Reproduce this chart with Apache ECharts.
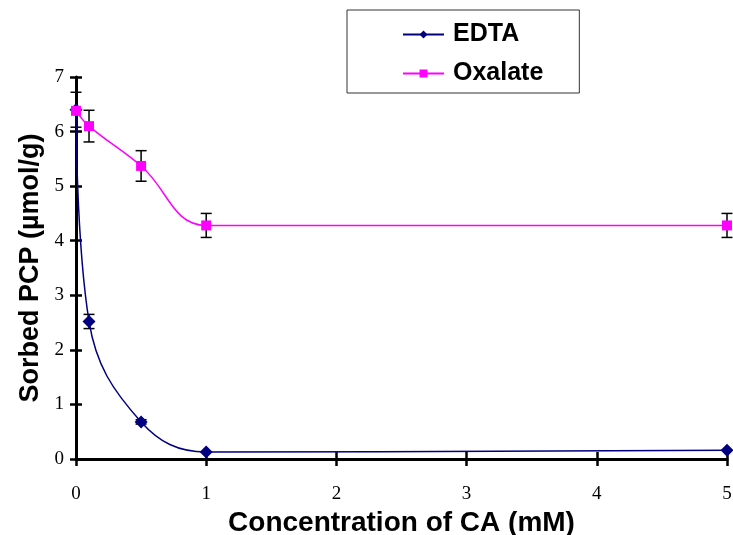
<!DOCTYPE html>
<html><head><meta charset="utf-8">
<script src="https://cdn.jsdelivr.net/npm/echarts@6/dist/echarts.min.js"></script>
<style>html,body{margin:0;padding:0;background:#fff}#c{width:733px;height:535px}</style>
</head><body><div id="c"></div>
<script>
const concentrations = [0, 0.1, 0.5, 1, 5];
const edtaValues = [6.40, 2.52, 0.68, 0.13, 0.16];
const oxalateValues = [6.38, 6.10, 5.37, 4.28, 4.28];
const edtaErr = [0.32, 0.13, 0.04, 0, 0];
const oxalateErr = [0.0, 0.29, 0.28, 0.22, 0.22];
const xTicks = [0, 1, 2, 3, 4, 5];
const yTicks = [0, 1, 2, 3, 4, 5, 6, 7];

const chart = echarts.init(document.getElementById('c'));
const pair = (xs, ys) => xs.map((x, i) => [x, ys[i]]);
const errData = (xs, ys, es) => xs.map((x, i) => [x, ys[i] - es[i], ys[i] + es[i]]).filter((d, i) => es[i] > 0);

function renderErr(params, api) {
  const x = api.value(0), lo = api.value(1), hi = api.value(2);
  const pLo = api.coord([x, lo]), pHi = api.coord([x, hi]);
  const w = 5.5;
  const st = { stroke: '#000', lineWidth: 1.5 };
  return { type: 'group', children: [
    { type: 'line', shape: { x1: pLo[0], y1: pLo[1], x2: pHi[0], y2: pHi[1] }, style: st },
    { type: 'line', shape: { x1: pLo[0] - w, y1: pLo[1], x2: pLo[0] + w, y2: pLo[1] }, style: st },
    { type: 'line', shape: { x1: pHi[0] - w, y1: pHi[1], x2: pHi[0] + w, y2: pHi[1] }, style: st }
  ]};
}

const labelFont = { fontFamily: 'Liberation Serif', fontSize: 19, color: '#000' };
const titleFont = { fontFamily: 'Liberation Sans', fontSize: 27, fontWeight: 'bold', color: '#000' };

chart.setOption({
  animation: false,
  backgroundColor: '#fff',
  grid: { left: 76, right: 6, top: 77, bottom: 76, containLabel: false, outerBoundsMode: 'none' },
  legend: {
    orient: 'vertical', left: 347, top: 10,
    padding: [12, 36, 7, 55],
    borderColor: '#333', borderWidth: 1,
    itemWidth: 41, itemHeight: 10, itemGap: 14,
    textStyle: { fontFamily: 'Liberation Sans', fontSize: 25, fontWeight: 'bold', color: '#000', padding: [0, 0, 0, 4] },
    data: ['EDTA', 'Oxalate']
  },
  xAxis: [{
    type: 'value', min: 0, max: 5, interval: 1,
    name: 'Concentration of CA (mM)', nameLocation: 'middle', nameGap: 49,
    nameTextStyle: Object.assign({}, titleFont, { fontSize: 28 }),
    axisLine: { lineStyle: { color: '#000', width: 3 } },
    axisTick: { show: true, length: 7, lineStyle: { color: '#000', width: 2.5 } },
    axisLabel: Object.assign({ margin: 26, formatter: v => xTicks.includes(v) ? String(v) : '' }, labelFont),
    splitLine: { show: false }
  }, {
    type: 'value', min: 0, max: 5, interval: 1, position: 'bottom',
    axisLine: { show: false },
    axisTick: { show: true, inside: true, length: 7, lineStyle: { color: '#000', width: 2.5 } },
    axisLabel: { show: false }, splitLine: { show: false }
  }],
  yAxis: [{
    type: 'value', min: 0, max: 7, interval: 1,
    name: 'Sorbed PCP (µmol/g)', nameLocation: 'middle', nameGap: 32,
    nameTextStyle: titleFont,
    axisLine: { lineStyle: { color: '#000', width: 3 } },
    axisTick: { show: true, length: 6, lineStyle: { color: '#000', width: 2.5 } },
    axisLabel: Object.assign({ margin: 12, formatter: v => yTicks.includes(v) ? String(v) : '' }, labelFont),
    splitLine: { show: false }
  }, {
    type: 'value', min: 0, max: 7, interval: 1, position: 'left',
    axisLine: { show: false },
    axisTick: { show: true, inside: true, length: 6, lineStyle: { color: '#000', width: 2.5 } },
    axisLabel: { show: false }, splitLine: { show: false }
  }],
  series: [
    {
      name: 'EDTA', type: 'line', smooth: 0.4,
      data: pair(concentrations, edtaValues),
      symbol: 'diamond', symbolSize: 13,
      lineStyle: { color: '#000080', width: 1.5 },
      itemStyle: { color: '#000080' }, z: 3
    },
    {
      name: 'Oxalate', type: 'line', smooth: 0.4,
      data: pair(concentrations, oxalateValues),
      symbol: 'rect', symbolSize: 10,
      lineStyle: { color: '#FF00FF', width: 1.5 },
      itemStyle: { color: '#FF00FF' }, z: 4
    },
    {
      type: 'custom', renderItem: renderErr, z: 2,
      data: errData(concentrations, edtaValues, edtaErr)
    },
    {
      type: 'custom', renderItem: renderErr, z: 2,
      data: errData(concentrations, oxalateValues, oxalateErr)
    }
  ]
});
</script></body></html>
